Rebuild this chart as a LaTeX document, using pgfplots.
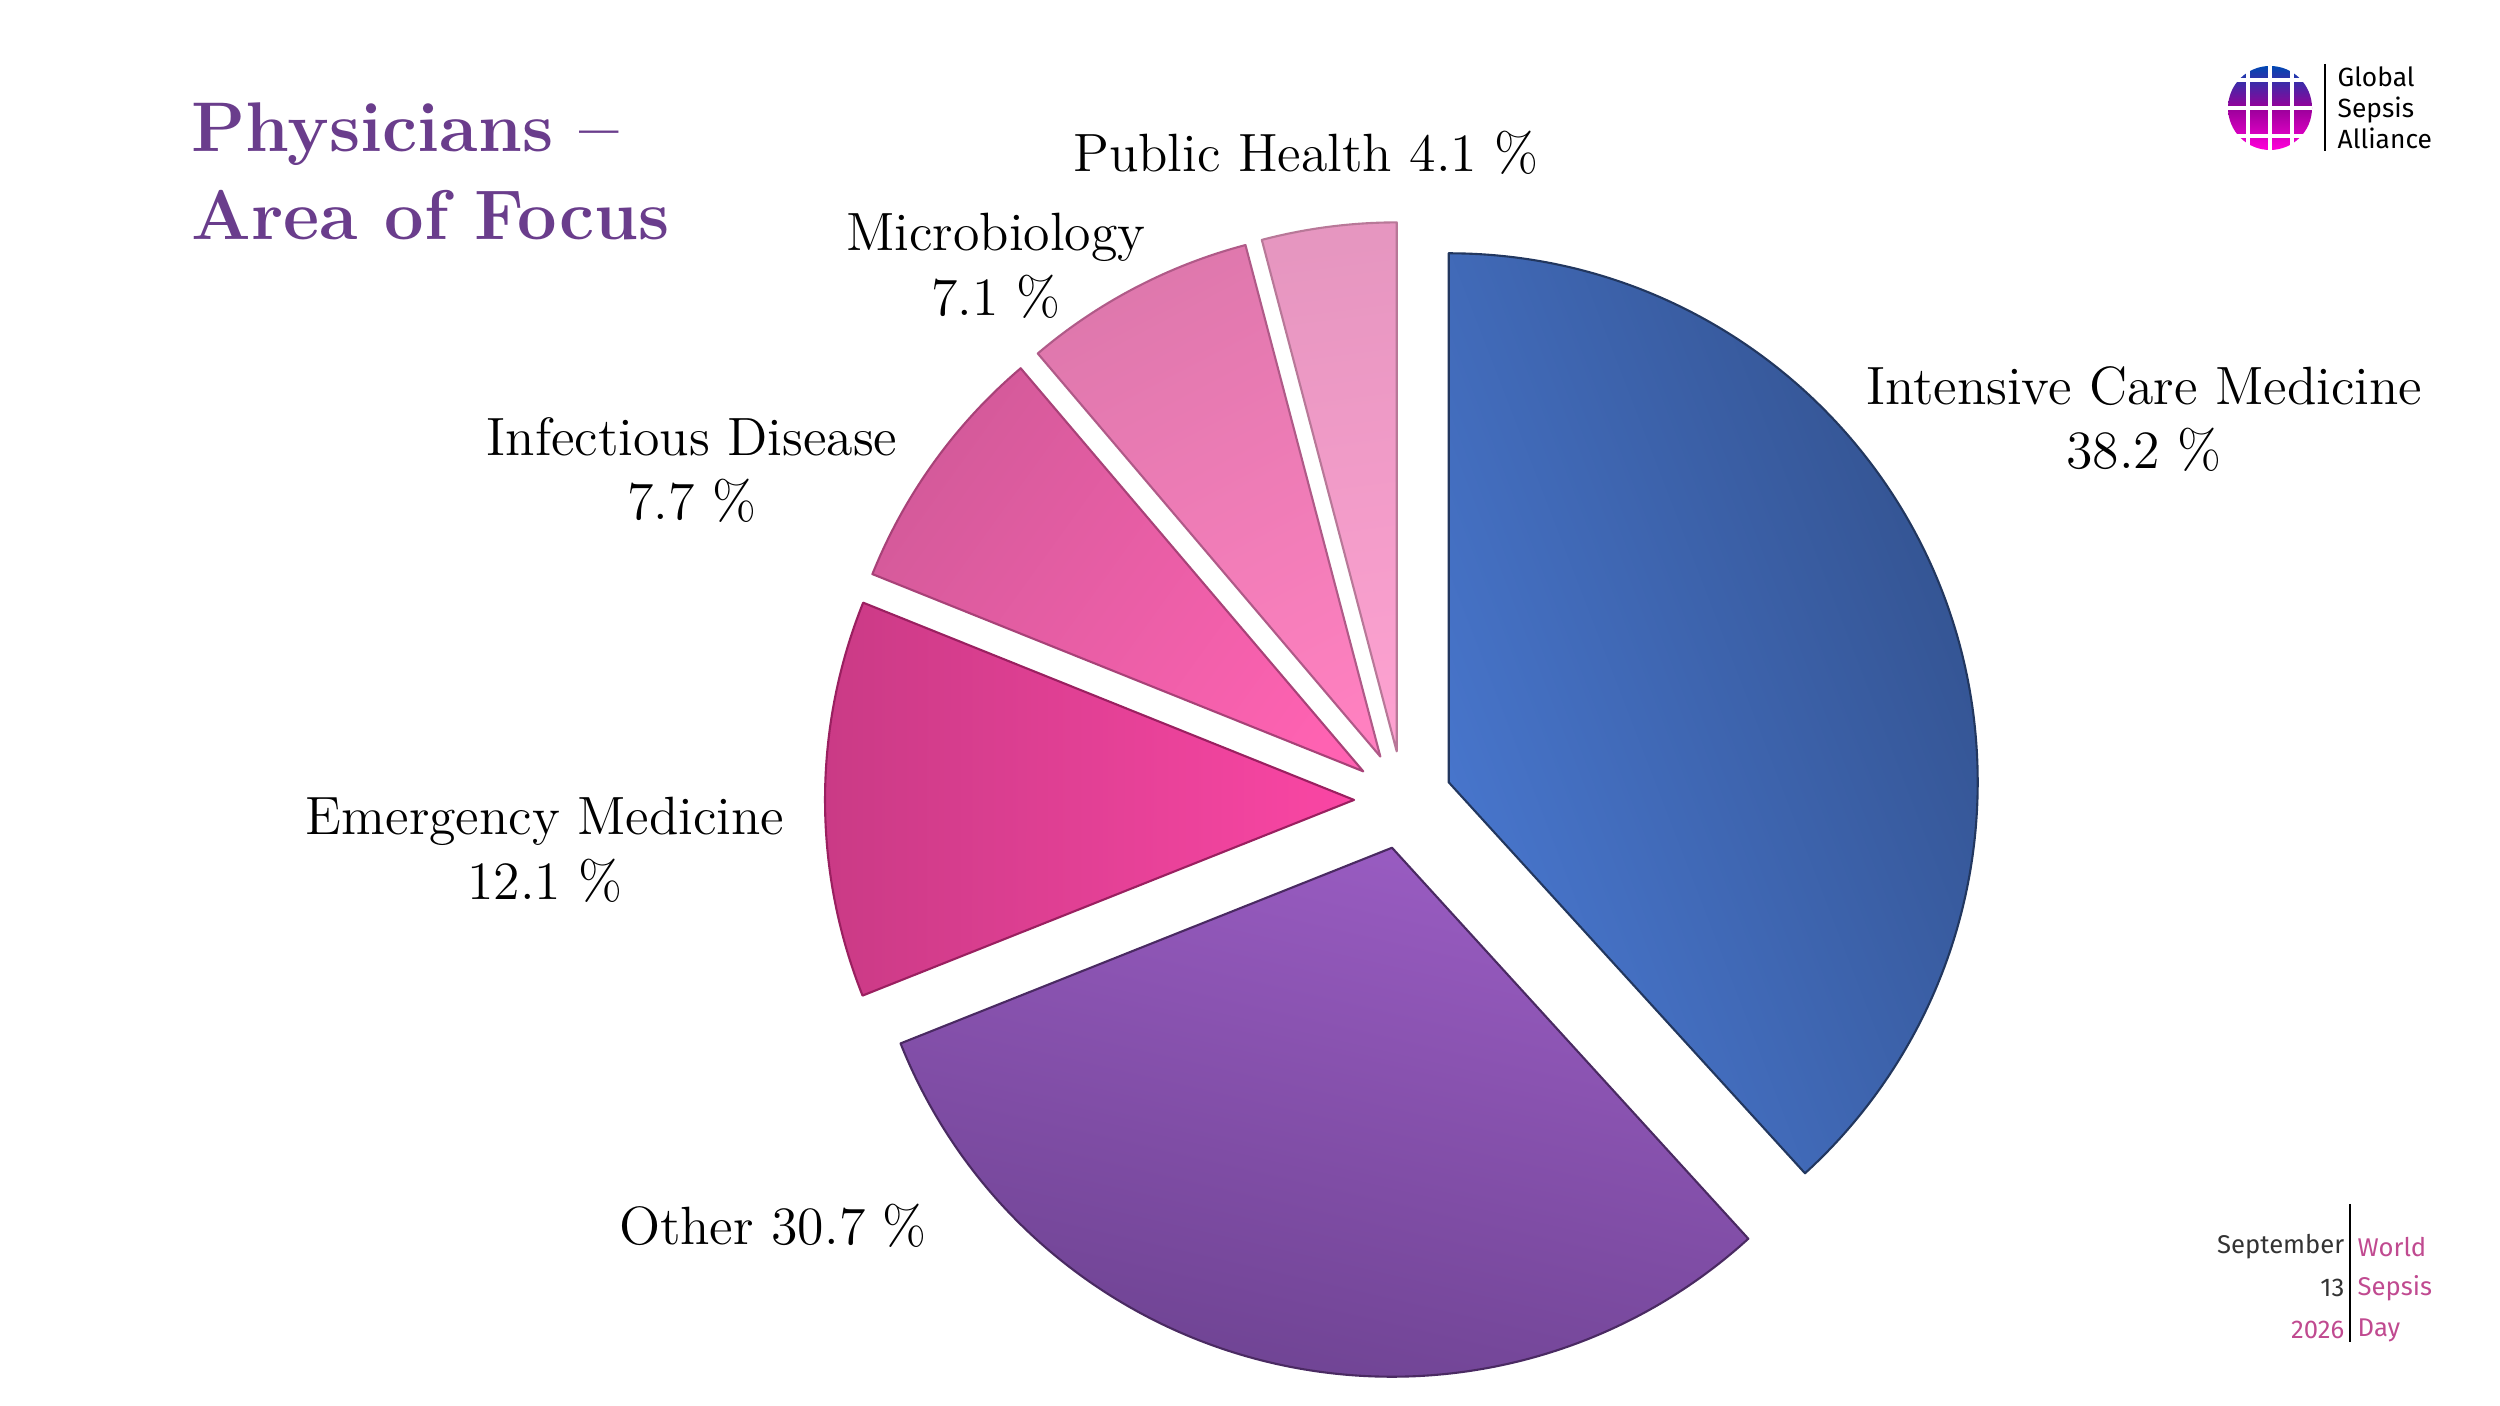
\documentclass[border=0pt]{standalone}
\usepackage{fontspec}
\usepackage{pgfplots}
\pgfplotsset{compat=1.18}
\newfontfamily\sansf{Fira Sans}
\definecolor{titlepurple}{HTML}{6A3D8C}
\definecolor{dayPink}{HTML}{C04A90}
% slice colours: inner (light) / outer (dark) / rim
\definecolor{icmI}{HTML}{4A7AD4}\definecolor{icmO}{HTML}{33528F}\definecolor{icmR}{HTML}{22375F}
\definecolor{othI}{HTML}{9D5EC6}\definecolor{othO}{HTML}{6C4290}\definecolor{othR}{HTML}{4A2A62}
\definecolor{emI}{HTML}{FF47A7}\definecolor{emO}{HTML}{C93A85}\definecolor{emR}{HTML}{9A2060}
\definecolor{idI}{HTML}{FF62B2}\definecolor{idO}{HTML}{D45A9A}\definecolor{idR}{HTML}{A84278}
\definecolor{mbI}{HTML}{FF80C0}\definecolor{mbO}{HTML}{DF78AD}\definecolor{mbR}{HTML}{B05A88}
\definecolor{phI}{HTML}{FFA2D2}\definecolor{phO}{HTML}{E696C0}\definecolor{phR}{HTML}{B87898}
% #1 cumulative start (%), #2 share (%), #3 inner, #4 outer, #5 rim
\newcommand{\pieslice}[5]{%
  \shade[overlay, bottom color=#3, top color=#4, shading angle={-3.6036*(#1+#2/2)},
         draw=#5, line width=0.6pt, line join=round]
    (axis cs:1403,606) ++({90-3.6036*(#1+#2/2)}:0.49cm)
    -- ++({90-3.6036*#1}:5.29cm)
    arc[start angle={90-3.6036*#1}, end angle={90-3.6036*(#1+#2)}, radius=5.29cm]
    -- cycle;
}
\begin{document}
\begin{tikzpicture}
\begin{axis}[
  scale only axis, width=25cm, height=14.06cm,
  xmin=0, xmax=2500, ymin=0, ymax=1406,
  hide axis, clip=false]
\path (axis cs:0,0) rectangle (axis cs:2500,1406);
% data: Intensive Care 38.2, Other 30.7, Emergency 12.1, Infectious 7.7, Microbiology 7.1, Public Health 4.1
\pieslice{0}{38.2}{icmI}{icmO}{icmR}
\pieslice{38.2}{30.7}{othI}{othO}{othR}
\pieslice{68.9}{12.1}{emI}{emO}{emR}
\pieslice{81.0}{7.7}{idI}{idO}{idR}
\pieslice{88.7}{7.1}{mbI}{mbO}{mbR}
\pieslice{95.8}{4.1}{phI}{phO}{phR}
% labels
\begin{scope}[every node/.style={font=\fontsize{14.4}{17.2}\selectfont, scale=1.065, align=center, inner sep=0pt, overlay}]
\node at (axis cs:1306,1253) {Public Health 4.1 \%};
\node at (axis cs:996,1140) {Microbiology\\7.1 \%};
\node at (axis cs:2144,987) {Intensive Care Medicine\\38.2 \%};
\node at (axis cs:692,936) {Infectious Disease\\7.7 \%};
\node at (axis cs:545,556) {Emergency Medicine\\12.1 \%};
\node at (axis cs:773,180) {Other 30.7 \%};
\end{scope}
% title
\node[overlay, anchor=north west, inner sep=0pt, align=left, text=titlepurple,
      font=\fontsize{20}{25}\selectfont\bfseries] at (axis cs:191,1304)
  {Physicians --\\Area of Focus};
% logo
\shade[overlay, top color=blue!60!cyan!70!black, bottom color=magenta!85!red, middle color=violet!80!magenta]
  (axis cs:2270,1298) circle[radius=0.42cm];
\draw[overlay, white, line width=1.2pt] (axis cs:2228,1270) -- (axis cs:2312,1270);
\draw[overlay, white, line width=1.2pt] (axis cs:2228,1298) -- (axis cs:2312,1298);
\draw[overlay, white, line width=1.2pt] (axis cs:2228,1326) -- (axis cs:2312,1326);
\draw[overlay, white, line width=1.2pt] (axis cs:2248,1256) -- (axis cs:2248,1340);
\draw[overlay, white, line width=1.2pt] (axis cs:2270,1256) -- (axis cs:2270,1340);
\draw[overlay, white, line width=1.2pt] (axis cs:2292,1256) -- (axis cs:2292,1340);
\draw[overlay, black, line width=0.6pt] (axis cs:2325,1342) -- (axis cs:2325,1255);
\node[overlay, anchor=west, align=left, inner sep=0pt, font=\sansf\fontsize{7.5}{8.9}\selectfont]
  at (axis cs:2337,1298) {Global\\Sepsis\\Alliance};
% footer
\draw[overlay, black, line width=0.8pt] (axis cs:2350,202) -- (axis cs:2350,64);
\begin{scope}[every node/.style={overlay, inner sep=0pt, font=\sansf\fontsize{7.3}{9}\selectfont}]
\node[anchor=east, text=black!80] at (axis cs:2345,159) {September};
\node[anchor=east, text=black!80] at (axis cs:2345,118) {13};
\node[anchor=east, text=dayPink] at (axis cs:2345,76) {2026};
\node[anchor=west, text=dayPink] at (axis cs:2357,159) {World};
\node[anchor=west, text=dayPink] at (axis cs:2357,118) {Sepsis};
\node[anchor=west, text=dayPink] at (axis cs:2357,76) {Day};
\end{scope}
\end{axis}
\end{tikzpicture}
\end{document}
